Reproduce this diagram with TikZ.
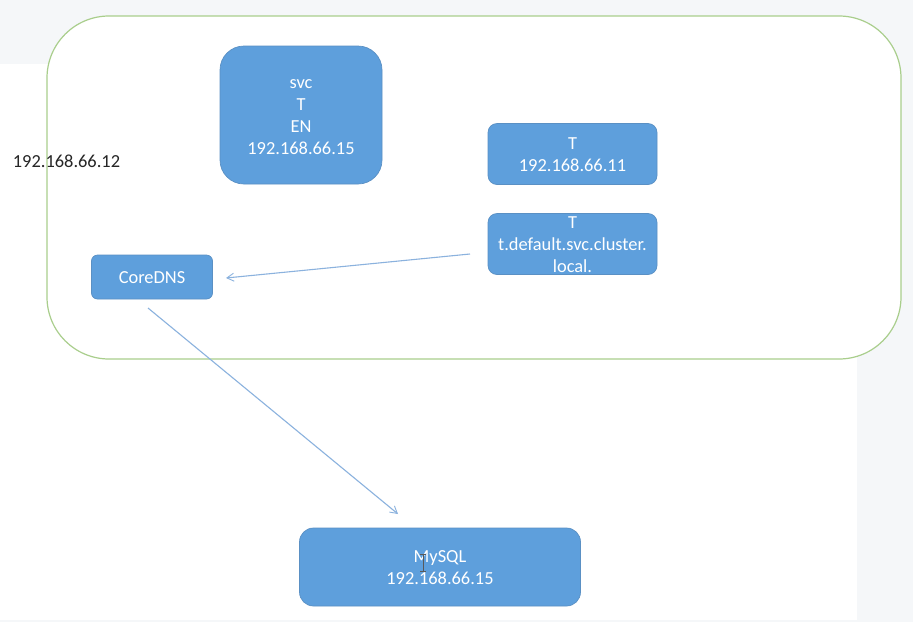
\documentclass[tikz,border=0pt]{standalone}
\usepackage{fontspec}
\setmainfont{Carlito}
\usetikzlibrary{arrows.meta}
\definecolor{pagebg}{HTML}{F5F7F9}
\definecolor{boxblue}{HTML}{5E9FDC}
\definecolor{boxedge}{HTML}{5A90C4}
\definecolor{ringgreen}{HTML}{A9CE8C}
\definecolor{linkblue}{HTML}{8BB2DE}
\newcommand{\topgap}{\rule{0pt}{13pt}}
\tikzset{
  bluebox/.style={draw=boxedge,line width=0.7pt,fill=boxblue,text=white,align=center,inner sep=0pt,
    font=\fontsize{18.4}{21.8}\selectfont},
  link/.style={draw=linkblue,line width=1.1pt,-{Straight Barb[length=7pt,width=8pt,line width=0.9pt]}},
  plainlabel/.style={text=black!85,inner sep=0pt,font=\fontsize{18.4}{22}\selectfont}
}
\begin{document}
\begin{tikzpicture}[x=1pt,y=-1pt]
\useasboundingbox (0,0) rectangle (913,622);
\fill[pagebg] (0,0) rectangle (913,622);
\fill[white] (0,64) rectangle (857,620);
\draw[ringgreen,line width=1.2pt,fill=white,rounded corners=62pt] (47,16) rectangle (901,359);
\node[plainlabel] (ip) at (66.5,161) {192.168.66.12};
\node[bluebox,minimum width=162pt,minimum height=138pt,rounded corners=24pt] (svc) at (301,115)
  {\topgap svc\\T\\EN\\192.168.66.15};
\node[bluebox,minimum width=169pt,minimum height=61pt,rounded corners=9pt] (tip) at (572.5,154)
  {\topgap T\\192.168.66.11};
\node[bluebox,minimum width=169pt,minimum height=61pt,rounded corners=9pt] (tdns) at (572.5,244)
  {\topgap T\\t.default.svc.cluster.\\local.};
\node[bluebox,minimum width=121pt,minimum height=44pt,rounded corners=6pt] (core) at (152,277)
  {\topgap CoreDNS};
\node[bluebox,minimum width=281pt,minimum height=78pt,rounded corners=14pt] (mysql) at (440,567)
  {\topgap MySQL\\192.168.66.15};
\coordinate (a1) at (470,254);
\coordinate (a2) at (226,278);
\coordinate (b1) at (148,308);
\coordinate (b2) at (398,514);
\draw[link] (a1) -- (a2);
\draw[link] (b1) -- (b2);
\draw[black!65,line width=0.8pt] (420,554) -- (426,554) (423,554) -- (423,571) (420,571) -- (426,571);
\end{tikzpicture}
\end{document}
